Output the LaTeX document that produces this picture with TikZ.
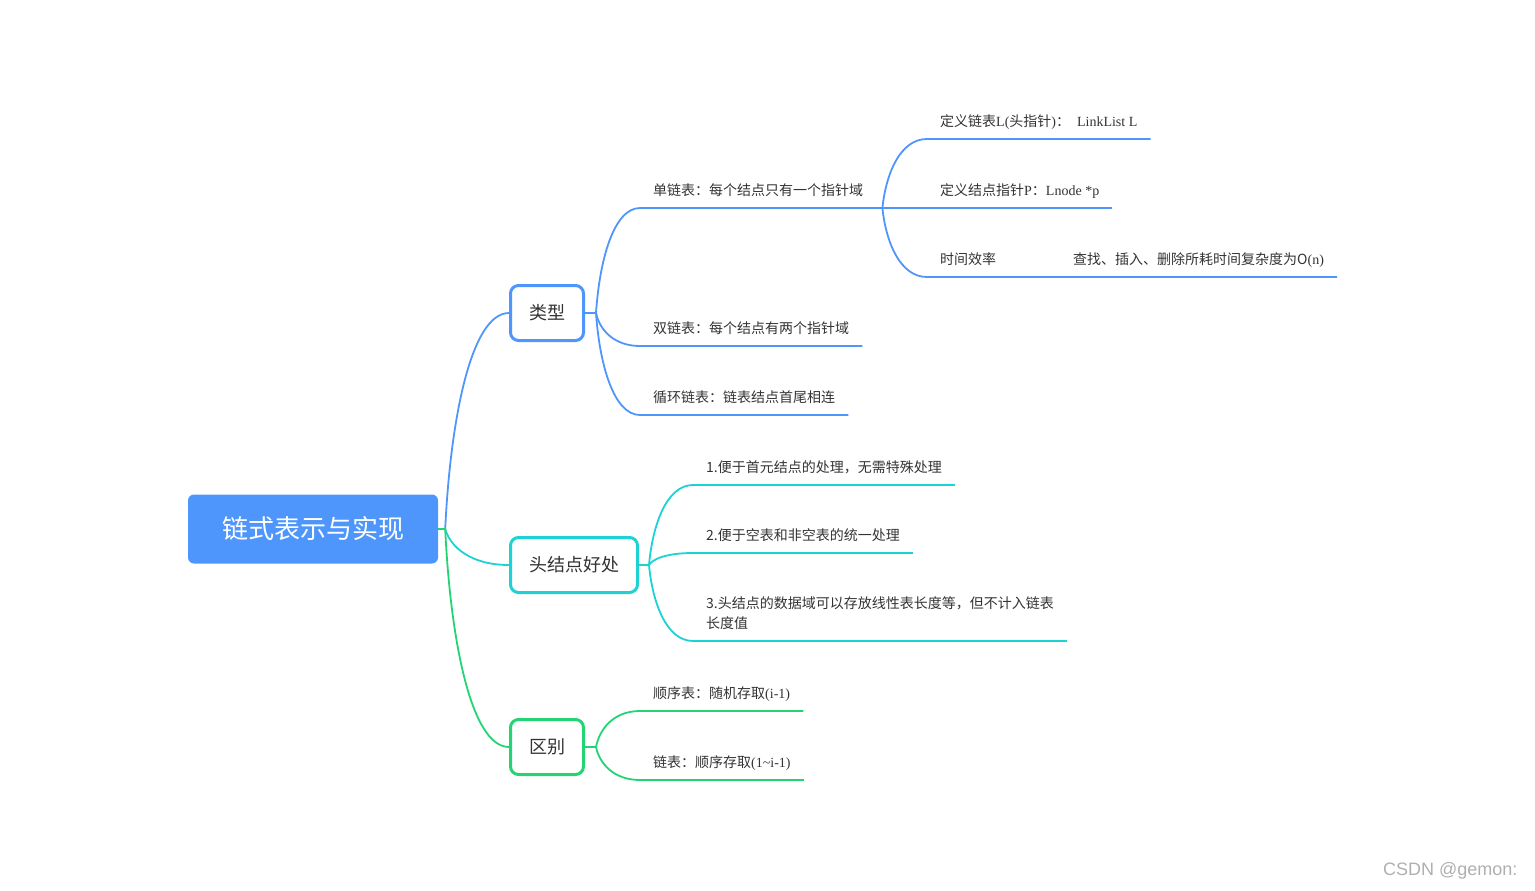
\documentclass[tikz,border=0pt]{standalone}
\usepackage{fontspec}
\setmainfont{Noto Sans CJK SC}
\newfontfamily\latfont{Liberation Serif}
\newfontfamily\markfont{Liberation Sans}
\usetikzlibrary{calc}
\definecolor{mapblue}{RGB}{79,150,252}
\definecolor{mapteal}{RGB}{30,210,212}
\definecolor{mapgreen}{RGB}{36,212,116}
\definecolor{mapgray}{RGB}{51,51,51}
\definecolor{markgray}{RGB}{175,175,175}
\tikzset{
    %Define style for the centre box
    rootbox/.style={
           rectangle,
           rounded corners=6pt,
           fill=mapblue,
           text=white,
           minimum width=250pt,
           minimum height=69pt,
           font=\fontsize{26}{30}\selectfont},
    %Define style for the topic boxes
    topic/.style={
           rectangle,
           rounded corners=8pt,
           line width=3pt,
           fill=white,
           text=mapgray,
           inner xsep=18.5pt,
           minimum height=55pt,
           font=\fontsize{18}{22}\selectfont},
    %Define style for underlined leaves
    leaf/.style={
           anchor=south west,
           inner xsep=13pt,
           inner ysep=12.5pt,
           text depth=0pt,
           text=mapgray,
           font=\fontsize{14}{20}\selectfont},
    % Define branch styles
    bline/.style={draw=mapblue, line width=1.8pt},
    tline/.style={draw=mapteal, line width=1.8pt},
    gline/.style={draw=mapgreen, line width=1.8pt},
    twig/.style={
           to path={let \p1=(\tikztostart), \p2=(\tikztotarget) in
             .. controls ({\x1+0.08*(\x2-\x1)},{\y1+0.5*(\y2-\y1)})
             and ({\x2-0.6*(\x2-\x1)},\y2) .. (\tikztotarget)}}
}
\begin{document}
\begin{tikzpicture}[x=1pt,y=-1pt]
    \useasboundingbox (0,0) rectangle (1535,891);

    % ROOT AND TOPICS
    \node[rootbox] (root) at (313,529) {链式表示与实现};
    \node[topic, draw=mapblue] (lei) at (547,313) {类型};
    \node[topic, draw=mapteal] (tou) at (574,565) {头结点好处};
    \node[topic, draw=mapgreen] (qu) at (547,747) {区别};

    \coordinate (rootJ) at ($(root.east)+(7,0)$);
    \draw[bline] (rootJ) to[twig] (lei.west);
    \draw[tline] (rootJ) to[twig] (tou.west);
    \draw[gline] (root.east) -- (rootJ) to[twig] (qu.west);

    % TYPES
    \node[leaf] at (640,208) (dan) {单链表：每个结点只有一个指针域};
    \node[leaf] at (640,346) (shuang) {双链表：每个结点有两个指针域};
    \node[leaf] at (640,415) (xunhuan) {循环链表：链表结点首尾相连};
    \draw[bline] (lei.east) -- ++(11,0) coordinate (leiJ);
    \draw[bline] (leiJ) to[twig] (dan.south west) -- (dan.south east) -- ++(6,0) coordinate (danJ);
    \draw[bline] (leiJ) to[twig] (shuang.south west) -- (shuang.south east);
    \draw[bline] (leiJ) to[twig] (xunhuan.south west) -- (xunhuan.south east);

    \node[leaf] at (927,139) (defL) {定义链表{\latfont L(}头指针{\latfont )}：{\latfont\ \ LinkList L}};
    \node[leaf] at (927,208) (defP) {定义结点指针{\latfont P}：{\latfont Lnode *p}};
    \node[leaf] at (927,277) (timeeff) {时间效率};
    \node[leaf] at (1060,277) (cost) {查找、插入、删除所耗时间复杂度为O{\latfont (n)}};
    \draw[bline] (danJ) to[twig] (defL.south west) -- (defL.south east);
    \draw[bline] (danJ) to[twig] (defP.south west) -- (defP.south east);
    \draw[bline] (danJ) to[twig] (timeeff.south west) -- (timeeff.south east)
        -- (cost.south west) -- (cost.south east);

    % HEAD NODE
    \node[leaf] at (693,485) (hA) {1.便于首元结点的处理，无需特殊处理};
    \node[leaf] at (693,553) (hB) {2.便于空表和非空表的统一处理};
    \node[leaf, align=left] at (693,641) (hC) {3.头结点的数据域可以存放线性表长度等，但不计入链表\\长度值};
    \draw[tline] (tou.east) -- ++(10,0) coordinate (touJ);
    \draw[tline] (touJ) to[twig] (hA.south west) -- (hA.south east);
    \draw[tline] (touJ) to[twig] (hB.south west) -- (hB.south east);
    \draw[tline] (touJ) to[twig] (hC.south west) -- (hC.south east);

    % DIFFERENCE
    \node[leaf] at (640,711) (seq) {顺序表：随机存取{\latfont (i-1)}};
    \node[leaf] at (640,780) (lnk) {链表：顺序存取{\latfont (1\textasciitilde i-1)}};
    \draw[gline] (qu.east) -- ++(11,0) coordinate (quJ);
    \draw[gline] (quJ) to[twig] (seq.south west) -- (seq.south east);
    \draw[gline] (quJ) to[twig] (lnk.south west) -- (lnk.south east);

    \node[anchor=east, text=markgray, font=\markfont\fontsize{18}{20}\selectfont] at (1521,871) (mark) {CSDN @gemon:};
\end{tikzpicture}
\end{document}
